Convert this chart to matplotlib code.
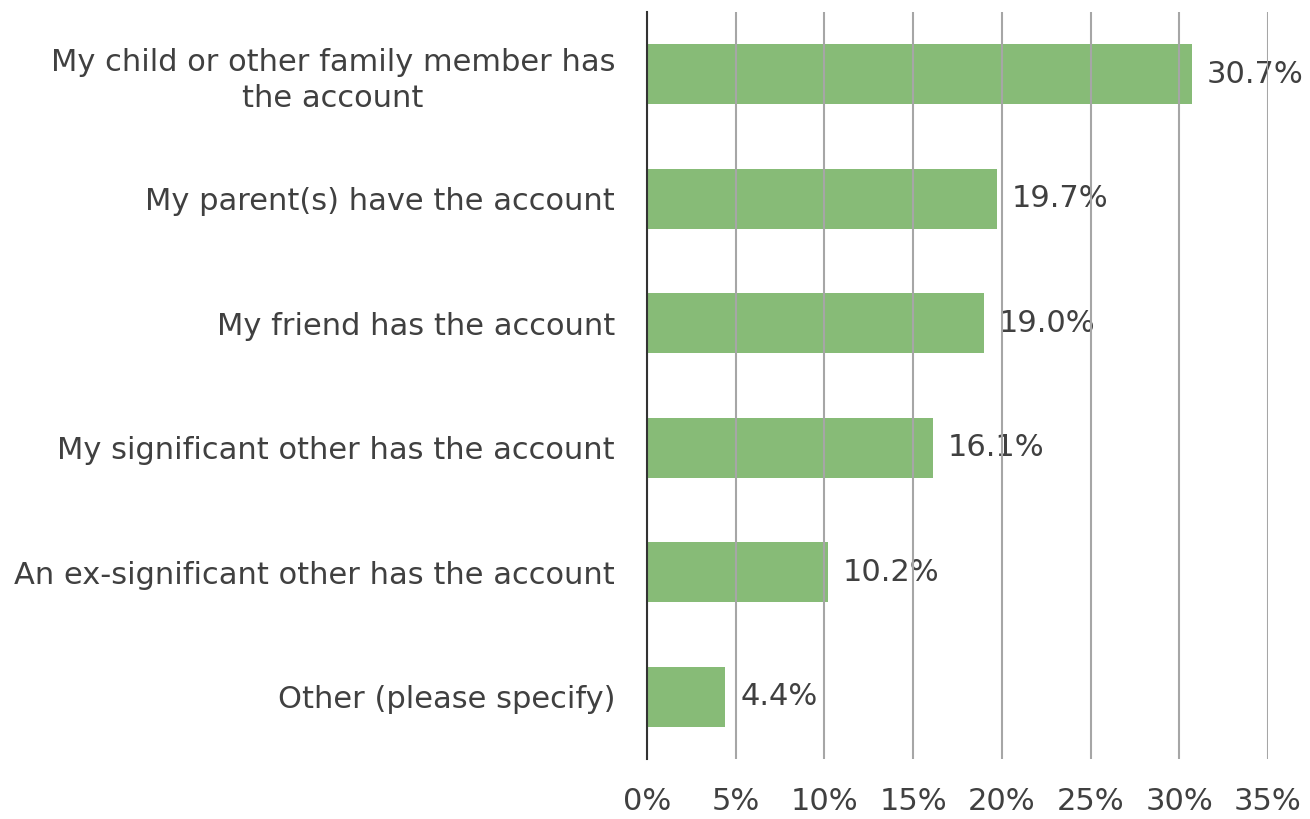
import matplotlib.pyplot as plt

# data
categories = [
    "My child or other family member has\nthe account",
    "My parent(s) have the account",
    "My friend has the account",
    "My significant other has the account",
    "An ex-significant other has the account",
    "Other (please specify)",
]
values = [30.7, 19.7, 19.0, 16.1, 10.2, 4.4]
xticks = [0, 5, 10, 15, 20, 25, 30, 35]

plt.rcParams['font.family'] = ['DejaVu Sans']
text_color = "#404040"

fig = plt.figure(figsize=(13.1, 8.19), dpi=100)
ax = fig.add_axes([0.4939, 0.0733, 0.474, 0.912])

ypos = list(range(len(categories)))
ax.barh(ypos, values, height=0.48, color="#7db66b", alpha=0.92, zorder=2)

for y, v in zip(ypos, values):
    ax.text(v + 0.85, y, f"{v:.1f}%", va="center", ha="left",
            fontsize=22, color=text_color, zorder=1)

ax.set_xlim(0, 35)
ax.set_ylim(len(categories) - 0.5, -0.5)
ax.set_xticks(xticks)
ax.set_xticklabels([f"{t}%" for t in xticks])
ax.set_yticks(ypos)
ax.set_yticklabels(categories, multialignment="center", linespacing=1.3)

ax.grid(axis="x", color="#a6a6a6", linewidth=1.5, zorder=3)
ax.set_axisbelow(False)
for gl in ax.get_xgridlines():
    gl.set_zorder(3)

for s in ["top", "right", "bottom"]:
    ax.spines[s].set_visible(False)
ax.spines["left"].set_color("#333333")
ax.spines["left"].set_linewidth(1.5)
ax.spines["left"].set_zorder(4)

ax.tick_params(axis="x", length=0, pad=20, labelsize=22, labelcolor=text_color)
ax.tick_params(axis="y", length=0, pad=23, labelsize=22, labelcolor=text_color)

fig.savefig("out.png", dpi=100)
